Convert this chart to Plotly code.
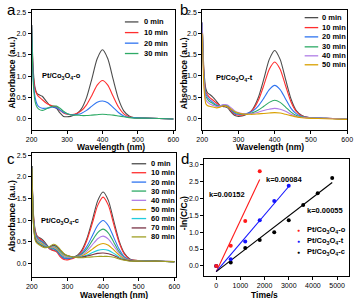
import plotly.graph_objects as go

W, H = 359, 299

# ---------------- data ----------------
wl = [200, 205, 210, 215, 220, 230, 240, 250, 260, 270, 280, 290, 300, 310, 320,
      330, 340, 355, 370, 385, 400, 415, 430, 445, 460, 475, 490, 520, 560, 600]

labels_a = ["0 min", "10 min", "20 min", "30 min"]
spec_a_0 = [2.2, 1.1, 0.72, 0.6, 0.57, 0.53, 0.43, 0.33, 0.28, 0.25, 0.14, 0.06, 0.05, 0.06, 0.09,
            0.14, 0.23, 0.5, 0.94, 1.41, 1.62, 1.41, 0.93, 0.47, 0.19, 0.07, 0.03, 0.02, 0.01, 0.0]
spec_a_10 = [2.2, 1.0, 0.68, 0.58, 0.52, 0.45, 0.38, 0.33, 0.3, 0.28, 0.2, 0.14, 0.11, 0.1, 0.11,
             0.14, 0.19, 0.33, 0.55, 0.79, 0.9, 0.79, 0.53, 0.28, 0.12, 0.05, 0.03, 0.02, 0.01, 0.0]
spec_a_20 = [2.2, 0.9, 0.5, 0.35, 0.29, 0.25, 0.25, 0.26, 0.28, 0.26, 0.21, 0.15, 0.12, 0.1, 0.1,
             0.11, 0.13, 0.2, 0.3, 0.39, 0.42, 0.38, 0.27, 0.15, 0.07, 0.04, 0.03, 0.02, 0.01, 0.0]
spec_a_30 = [2.2, 0.8, 0.4, 0.28, 0.23, 0.2, 0.23, 0.27, 0.3, 0.3, 0.25, 0.18, 0.13, 0.1, 0.09,
             0.09, 0.08, 0.08, 0.09, 0.1, 0.11, 0.1, 0.09, 0.07, 0.05, 0.03, 0.02, 0.02, 0.01, 0.0]

labels_b = ["0 min", "10 min", "20 min", "30 min", "40 min", "50 min"]
spec_b_0 = [2.25, 1.1, 0.7, 0.6, 0.57, 0.5, 0.4, 0.3, 0.28, 0.25, 0.15, 0.07, 0.05, 0.06, 0.09,
            0.14, 0.23, 0.5, 0.93, 1.39, 1.6, 1.39, 0.92, 0.46, 0.18, 0.07, 0.03, 0.01, 0.0, -0.02]
spec_b_10 = [2.25, 1.0, 0.62, 0.55, 0.5, 0.43, 0.36, 0.3, 0.3, 0.28, 0.18, 0.1, 0.08, 0.08, 0.1,
             0.14, 0.21, 0.43, 0.78, 1.16, 1.33, 1.16, 0.77, 0.39, 0.16, 0.06, 0.03, 0.01, 0.0, -0.02]
spec_b_20 = [2.25, 0.95, 0.58, 0.5, 0.45, 0.38, 0.32, 0.3, 0.32, 0.29, 0.2, 0.12, 0.1, 0.1, 0.11,
             0.14, 0.18, 0.3, 0.48, 0.68, 0.78, 0.68, 0.46, 0.24, 0.11, 0.05, 0.03, 0.01, 0.0, -0.02]
spec_b_30 = [2.25, 0.9, 0.52, 0.45, 0.4, 0.35, 0.3, 0.3, 0.32, 0.3, 0.22, 0.15, 0.12, 0.11, 0.11,
             0.12, 0.14, 0.2, 0.29, 0.38, 0.43, 0.38, 0.27, 0.15, 0.07, 0.04, 0.02, 0.01, 0.0, -0.02]
spec_b_40 = [2.25, 0.85, 0.45, 0.38, 0.35, 0.31, 0.28, 0.3, 0.33, 0.32, 0.25, 0.18, 0.14, 0.12, 0.11,
             0.11, 0.12, 0.15, 0.19, 0.22, 0.24, 0.22, 0.17, 0.1, 0.05, 0.03, 0.02, 0.01, 0.0, -0.02]
spec_b_50 = [2.0, 0.7, 0.35, 0.3, 0.29, 0.27, 0.25, 0.27, 0.3, 0.28, 0.22, 0.16, 0.13, 0.11, 0.1,
             0.1, 0.1, 0.11, 0.12, 0.13, 0.14, 0.13, 0.1, 0.07, 0.04, 0.02, 0.01, 0.0, -0.01, -0.02]

labels_c = ["0 min", "10 min", "20 min", "30 min", "40 min", "50 min", "60 min", "70 min", "80 min"]
spec_c_0 = [2.25, 1.1, 0.75, 0.63, 0.6, 0.55, 0.45, 0.35, 0.3, 0.28, 0.18, 0.12, 0.11, 0.12, 0.15,
            0.2, 0.3, 0.58, 1.0, 1.45, 1.65, 1.45, 0.98, 0.52, 0.23, 0.1, 0.07, 0.06, 0.05, 0.04]
spec_c_10 = [2.25, 1.05, 0.72, 0.62, 0.58, 0.52, 0.42, 0.33, 0.3, 0.26, 0.15, 0.09, 0.08, 0.1, 0.13,
             0.18, 0.27, 0.54, 0.93, 1.34, 1.53, 1.34, 0.9, 0.48, 0.21, 0.09, 0.07, 0.06, 0.05, 0.04]
spec_c_20 = [2.25, 1.0, 0.68, 0.6, 0.55, 0.5, 0.42, 0.35, 0.33, 0.29, 0.19, 0.12, 0.11, 0.12, 0.14,
             0.17, 0.23, 0.4, 0.64, 0.88, 0.99, 0.87, 0.6, 0.33, 0.15, 0.08, 0.06, 0.06, 0.05, 0.04]
spec_c_30 = [2.25, 0.98, 0.65, 0.57, 0.53, 0.48, 0.41, 0.36, 0.35, 0.31, 0.22, 0.15, 0.13, 0.13, 0.14,
             0.17, 0.21, 0.34, 0.53, 0.71, 0.79, 0.7, 0.49, 0.27, 0.13, 0.07, 0.06, 0.05, 0.05, 0.04]
spec_c_40 = [2.25, 0.95, 0.62, 0.55, 0.51, 0.46, 0.4, 0.36, 0.37, 0.33, 0.24, 0.17, 0.14, 0.14, 0.14,
             0.16, 0.19, 0.29, 0.43, 0.57, 0.63, 0.56, 0.4, 0.23, 0.12, 0.07, 0.06, 0.05, 0.05, 0.04]
spec_c_50 = [2.25, 0.92, 0.6, 0.52, 0.49, 0.44, 0.39, 0.37, 0.39, 0.35, 0.26, 0.19, 0.16, 0.15, 0.14,
             0.15, 0.17, 0.24, 0.33, 0.42, 0.46, 0.42, 0.31, 0.19, 0.1, 0.07, 0.06, 0.05, 0.05, 0.04]
spec_c_60 = [2.25, 0.9, 0.57, 0.5, 0.47, 0.42, 0.38, 0.38, 0.41, 0.37, 0.28, 0.21, 0.17, 0.15, 0.14,
             0.14, 0.15, 0.19, 0.25, 0.3, 0.32, 0.3, 0.23, 0.15, 0.09, 0.06, 0.05, 0.05, 0.05, 0.04]
spec_c_70 = [2.25, 0.88, 0.55, 0.48, 0.45, 0.4, 0.37, 0.38, 0.42, 0.39, 0.3, 0.22, 0.18, 0.16, 0.14,
             0.14, 0.14, 0.17, 0.2, 0.23, 0.24, 0.22, 0.18, 0.12, 0.08, 0.06, 0.05, 0.05, 0.05, 0.04]
spec_c_80 = [2.2, 0.85, 0.52, 0.46, 0.43, 0.38, 0.36, 0.39, 0.44, 0.41, 0.32, 0.23, 0.18, 0.16, 0.14,
             0.13, 0.13, 0.14, 0.15, 0.16, 0.16, 0.16, 0.14, 0.1, 0.07, 0.05, 0.05, 0.05, 0.05, 0.04]

# kinetics
kin_labels = ["Pt/Co<sub>3</sub>O<sub>4</sub>-o", "Pt/Co<sub>3</sub>O<sub>4</sub>-t", "Pt/Co<sub>3</sub>O<sub>4</sub>-c"]
t_o = [0, 600, 1200, 1800]
y_o = [0.0, 0.6, 1.33, 2.8]
t_t = [0, 600, 1200, 1800, 2400, 3000]
y_t = [0.0, 0.2, 0.72, 1.35, 1.92, 2.37]
t_c = [0, 600, 1200, 1800, 2400, 3000, 3600, 4200, 4800]
y_c = [0.0, 0.1, 0.53, 0.77, 1.0, 1.35, 1.8, 2.15, 2.6]
fit_t_o = [0, 1800]
fit_y_o = [-0.17, 2.56]
fit_t_t = [0, 3000]
fit_y_t = [-0.17, 2.35]
fit_t_c = [0, 4800]
fit_y_c = [-0.17, 2.47]
k_labels = ["k=0.00152", "k=0.00084", "k=0.00055"]

sample_labels = ["Pt/Co<sub>3</sub>O<sub>4</sub>-o", "Pt/Co<sub>3</sub>O<sub>4</sub>-t",
                 "Pt/Co<sub>3</sub>O<sub>4</sub>-c"]
panel_letters = ["a", "b", "c", "d"]

# ---------------- styling ----------------
FONT = "Liberation Sans, Arial, sans-serif"
C_GRAY = "#4d4d4d"
C_RED = "#ff2e2e"
C_BLUE = "#2f74f0"
C_GREEN = "#2eaa66"
C_PURPLE = "#b07ee6"
C_GOLD = "#d9a000"
C_CYAN = "#22ccdd"
C_MAROON = "#7a3446"
C_OLIVE = "#a0a024"

cols_a = [C_GRAY, C_RED, C_BLUE, C_GREEN]
cols_b = [C_GRAY, C_RED, C_BLUE, C_GREEN, C_PURPLE, C_GOLD]
cols_c = [C_GRAY, C_RED, C_BLUE, C_GREEN, C_PURPLE, C_GOLD, C_CYAN, C_MAROON, C_OLIVE]
cols_d = ["#ff1a1a", "#1414ff", "#000000"]


def px(x):
    return x / W


def py(y):
    return 1 - y / H


fig = go.Figure()

panels = [
    ("x", "y", [spec_a_0, spec_a_10, spec_a_20, spec_a_30], cols_a),
    ("x2", "y2", [spec_b_0, spec_b_10, spec_b_20, spec_b_30, spec_b_40, spec_b_50], cols_b),
    ("x3", "y3", [spec_c_0, spec_c_10, spec_c_20, spec_c_30, spec_c_40, spec_c_50,
                  spec_c_60, spec_c_70, spec_c_80], cols_c),
]
for xa, ya, series, cols in panels:
    for s, c in zip(series, cols):
        fig.add_trace(go.Scatter(x=wl, y=s, mode="lines", xaxis=xa, yaxis=ya,
                                 line=dict(color=c, width=1.1, shape="spline", smoothing=0.7),
                                 showlegend=False, hoverinfo="skip"))

# kinetics fits and points
for ft, fy, c in [(fit_t_o, fit_y_o, cols_d[0]), (fit_t_t, fit_y_t, cols_d[1]), (fit_t_c, fit_y_c, cols_d[2])]:
    fig.add_trace(go.Scatter(x=ft, y=fy, mode="lines", xaxis="x4", yaxis="y4",
                             line=dict(color=c, width=1.1), showlegend=False, hoverinfo="skip"))
for tt, yy, c in [(t_c, y_c, cols_d[2]), (t_t, y_t, cols_d[1]), (t_o, y_o, cols_d[0])]:
    fig.add_trace(go.Scatter(x=tt, y=yy, mode="markers", xaxis="x4", yaxis="y4",
                             marker=dict(color=c, size=4), showlegend=False, hoverinfo="skip"))

tickfont = dict(family=FONT, size=7, color="black")
axis_common = dict(showline=True, linecolor="black", linewidth=1, mirror=True,
                   ticks="outside", ticklen=3, tickwidth=1, tickcolor="black",
                   showgrid=False, zeroline=False, tickfont=tickfont)

fig.update_layout(
    width=W, height=H, margin=dict(l=0, r=0, t=0, b=0),
    paper_bgcolor="white", plot_bgcolor="white",
    xaxis=dict(domain=[px(26.5), px(175)], range=[200, 605], tickvals=[200, 300, 400, 500, 600],
               anchor="y", **axis_common),
    yaxis=dict(domain=[py(129.5), py(9)], range=[-0.26, 2.55], tickvals=[0, 0.5, 1, 1.5, 2, 2.5],
               ticktext=["0.0", "0.5", "1.0", "1.5", "2.0", "2.5"], anchor="x", **axis_common),
    xaxis2=dict(domain=[px(203), px(353)], range=[200, 600], tickvals=[200, 300, 400, 500, 600],
                anchor="y2", **axis_common),
    yaxis2=dict(domain=[py(129.5), py(9)], range=[-0.27, 2.55], tickvals=[0, 0.5, 1, 1.5, 2, 2.5],
                ticktext=["0.0", "0.5", "1.0", "1.5", "2.0", "2.5"], anchor="x2", **axis_common),
    xaxis3=dict(domain=[px(26.7), px(176)], range=[200, 605], tickvals=[200, 300, 400, 500, 600],
                anchor="y3", **axis_common),
    yaxis3=dict(domain=[py(276.7), py(152.5)], range=[-0.31, 2.55], tickvals=[0, 0.5, 1, 1.5, 2, 2.5],
                ticktext=["0.0", "0.5", "1.0", "1.5", "2.0", "2.5"], anchor="x3", **axis_common),
    xaxis4=dict(domain=[px(205), px(355)], range=[-500, 5500], tickvals=[0, 1000, 2000, 3000, 4000, 5000],
                anchor="y4", **axis_common),
    yaxis4=dict(domain=[py(276), py(159)], range=[-0.3, 3.15], tickvals=[0, 0.5, 1, 1.5, 2, 2.5, 3],
                ticktext=["0.0", "0.5", "1.0", "1.5", "2.0", "2.5", "3.0"], anchor="x4", **axis_common),
)

ann = []
shapes = []


def text(x, y, s, size=7.5, bold=True, xanchor="center", angle=0, color="black"):
    ann.append(dict(x=px(x), y=py(y), xref="paper", yref="paper", text=(f"<b>{s}</b>" if bold else s),
                    showarrow=False, xanchor=xanchor, yanchor="middle", textangle=angle,
                    font=dict(family=FONT, size=size, color=color)))


# axis titles
for x, y in [(109, 146), (273, 146), (112, 294.5)]:
    text(x, y, "Wavelength (nm)", size=8.5)
text(267, 294.5, "Time/s", size=8.5)
for x, y in [(6, 72), (183.5, 72), (6, 216)]:
    text(x, y, "Absorbance (a.u.)", size=8.5, angle=-90)
text(184, 213, "-ln(C/C<sub>0</sub>)", size=8.5, angle=-90)

# panel letters
for (x, y), s in zip([(6, 9), (184, 9), (5, 158), (185, 158)], panel_letters):
    text(x, y, s, size=15, bold=False)

# sample labels
text(57, 75, sample_labels[0], size=7.5)
text(236, 77, sample_labels[1], size=7.5)
text(56, 221, sample_labels[2], size=7.5)

# k labels
text(229, 194, k_labels[0], size=7.5)
text(287.5, 179, k_labels[1], size=7.5)
text(330.5, 210, k_labels[2], size=7.5)


# manual legends for spectra
def legend(x0, x1, xt, rows, labs, cols):
    for yy, lab, c in zip(rows, labs, cols):
        shapes.append(dict(type="line", xref="paper", yref="paper", x0=px(x0), x1=px(x1),
                           y0=py(yy), y1=py(yy), line=dict(color=c, width=1.3)))
        text(xt, yy, lab, size=7.5, xanchor="left")


legend(123, 137, 141, [21, 31.7, 42.3, 52.7], labels_a, cols_a)
legend(309, 323, 325, [16.7, 26.7, 36, 46, 55, 64], labels_b, cols_b)
legend(130, 145, 148, [163.3, 172.3, 181.7, 190.7, 200, 209.3, 218.3, 227.7, 236.7], labels_c, cols_c)

# kinetics legend
for yy, lab, c in zip([230, 240.7, 252], kin_labels, cols_d):
    text(302.3, yy, "●", size=5, bold=False, color=c)
    text(309, yy, lab, size=7.5, xanchor="left")

fig.update_layout(annotations=ann, shapes=shapes)
fig.write_html("out.html", config={"displayModeBar": False, "staticPlot": True},
               post_script="document.body.style.margin='0';document.body.style.padding='0';"
                           "document.body.style.overflow='hidden';")
